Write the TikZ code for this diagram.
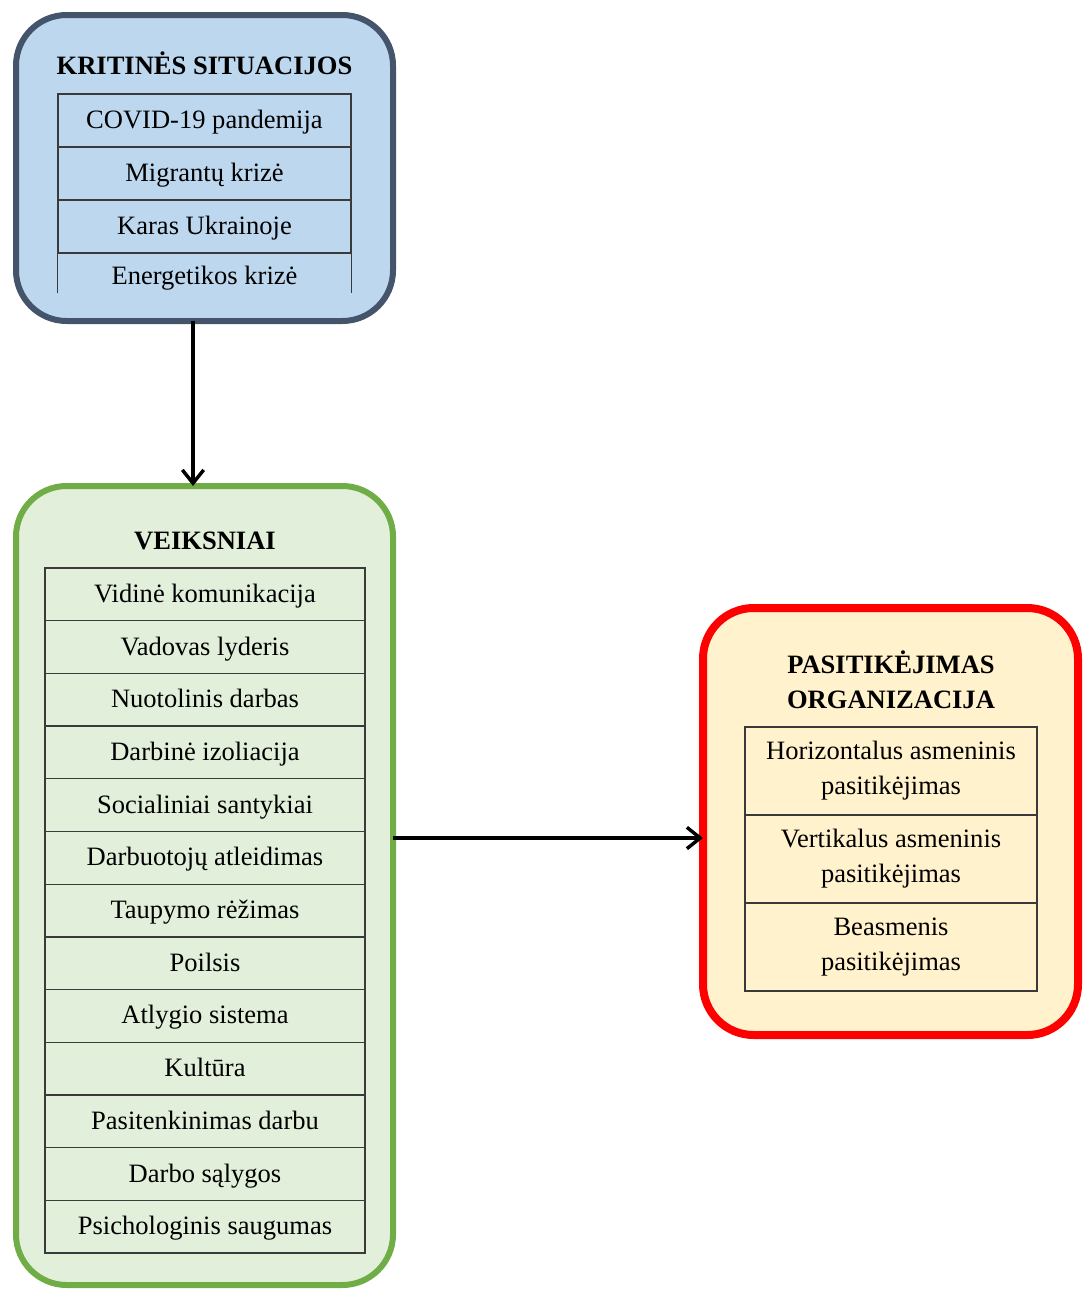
\documentclass[tikz,border=0pt]{standalone}
\usepackage{fontspec}
\setmainfont{Liberation Serif}
\usetikzlibrary{arrows.meta}
\definecolor{crisisfill}{HTML}{BDD7EE}
\definecolor{crisisline}{HTML}{44546A}
\definecolor{factorfill}{HTML}{E2EFDA}
\definecolor{factorline}{HTML}{70AD47}
\definecolor{trustfill}{HTML}{FFF2CC}
\definecolor{trustline}{HTML}{FF0000}
\definecolor{rowline}{HTML}{3A3A3A}
\begin{document}
\begin{tikzpicture}[x=0.75pt,y=-0.75pt,
  txt/.style={font=\fontsize{19.9pt}{26.25pt}\selectfont, align=center, inner sep=0pt,
              text height=15pt, text depth=3pt},
  head/.style={txt, font=\fontsize{19.9pt}{26.25pt}\selectfont\bfseries},
  panel/.style={rectangle, rounded corners=38pt, inner sep=0pt, outer sep=0pt},
  row/.style={txt, draw=rowline, line width=1pt, rectangle},
  arr/.style={line width=2.6pt, -{Straight Barb[length=10pt,width=16pt]}}
]
\useasboundingbox (0,0) rectangle (1082,1289);

% panels
\node[panel, draw=crisisline, fill=crisisfill, line width=4.5pt,
      minimum width=377*0.75pt, minimum height=306*0.75pt] (crisis) at (204.5,168) {};
\node[panel, draw=factorline, fill=factorfill, line width=4.5pt,
      minimum width=377*0.75pt, minimum height=799*0.75pt] (factors) at (204.5,885.5) {};
\node[panel, draw=trustline, fill=trustfill, line width=6pt,
      minimum width=375*0.75pt, minimum height=427*0.75pt] (trust) at (890.5,821.5) {};

% critical situations
\node[head] (crisisT) at (204.5,66) {KRITINĖS SITUACIJOS};
\begin{scope}[every node/.style={row, minimum width=293*0.75pt, minimum height=53*0.75pt}]
  \node (c1) at (204.5,120.5) {COVID-19 pandemija};
  \node (c2) at (204.5,173.5) {Migrantų krizė};
  \node (c3) at (204.5,226.5) {Karas Ukrainoje};
\end{scope}
\node[txt, minimum width=293*0.75pt, minimum height=46*0.75pt] (c4) at (204.5,276) {Energetikos krizė};
\draw[rowline, line width=1pt] ([yshift=4.5pt]c4.south west) -- (c4.north west) -- (c4.north east) -- ([yshift=4.5pt]c4.south east);

% factors
\node[head] (factorsT) at (205,541) {VEIKSNIAI};
\begin{scope}[every node/.style={row, minimum width=320*0.75pt, minimum height=52.7*0.75pt}]
  \node (f1)  at (205,594.35)  {Vidinė komunikacija};
  \node (f2)  at (205,647.05)  {Vadovas lyderis};
  \node (f3)  at (205,699.75)  {Nuotolinis darbas};
  \node (f4)  at (205,752.45)  {Darbinė izoliacija};
  \node (f5)  at (205,805.15)  {Socialiniai santykiai};
  \node (f6)  at (205,857.85)  {Darbuotojų atleidimas};
  \node (f7)  at (205,910.55)  {Taupymo rėžimas};
  \node (f8)  at (205,963.25)  {Poilsis};
  \node (f9)  at (205,1015.95) {Atlygio sistema};
  \node (f10) at (205,1068.65) {Kultūra};
  \node (f11) at (205,1121.35) {Pasitenkinimas darbu};
  \node (f12) at (205,1174.05) {Darbo sąlygos};
  \node (f13) at (205,1226.75) {Psichologinis saugumas};
\end{scope}

% trust in the organisation
\node[head, text height=, text depth=] (trustT) at (891,680) {PASITIKĖJIMAS\\ORGANIZACIJA};
\begin{scope}[every node/.style={row, text height=, text depth=, minimum width=292*0.75pt, minimum height=88*0.75pt}]
  \node (t1) at (891,771) {Horizontalus asmeninis\\pasitikėjimas};
  \node (t2) at (891,859) {Vertikalus asmeninis\\pasitikėjimas};
  \node (t3) at (891,947) {Beasmenis\\pasitikėjimas};
\end{scope}

% connectors
\coordinate (downx) at (193,0);
\coordinate (righty) at (0,838);
\draw[arr] (crisis.south -| downx) -- (factors.north -| downx);
\draw[arr] (factors.east |- righty) -- (trust.west |- righty);
\end{tikzpicture}
\end{document}
